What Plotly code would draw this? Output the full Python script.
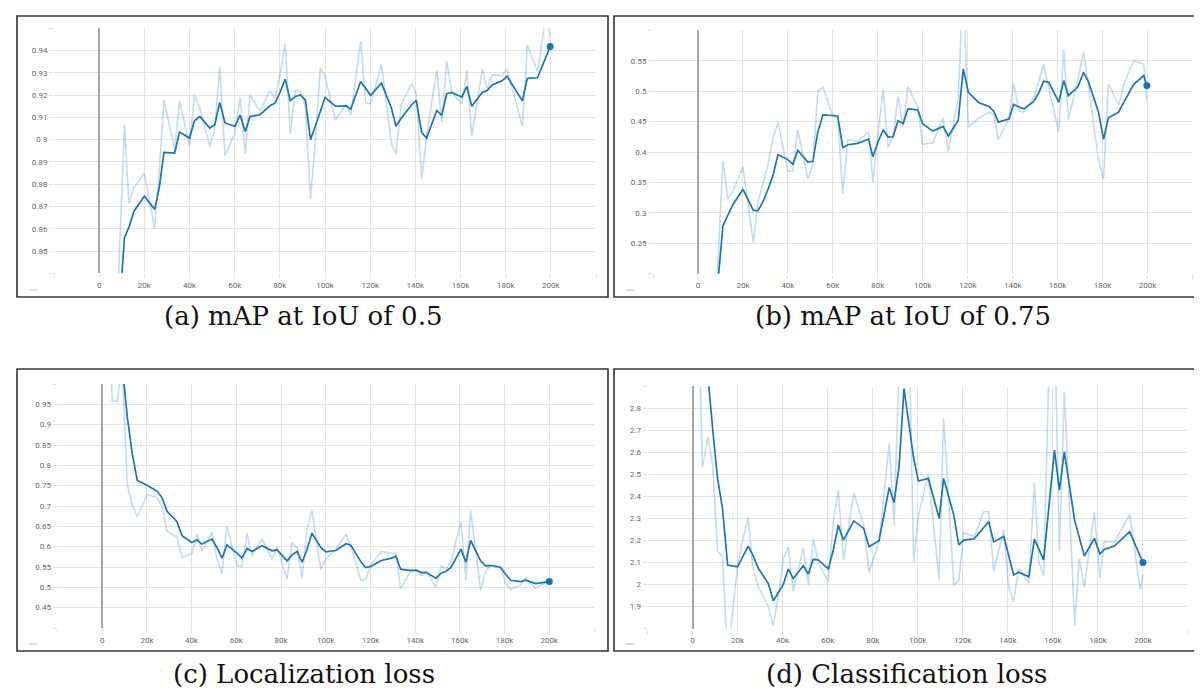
import plotly.graph_objects as go

W, H = 1202, 693

# ---------------- data (steps in thousands) ----------------
a_steps = [6.7, 11.2, 13.2, 15.4, 20.0, 24.6, 26.6, 28.7, 33.4, 35.6, 40.0, 42.2, 44.6, 49.0, 51.2,
           53.4, 55.7, 60.1, 62.4, 64.7, 66.8, 71.2, 75.6, 77.8, 80.0, 82.4, 84.6, 86.9, 89.1, 91.3,
           93.6, 95.8, 97.9, 100.0, 104.6, 109.4, 111.4, 115.8, 118.0, 120.2, 125.0, 129.4, 131.4,
           133.8, 138.4, 140.4, 142.8, 145.0, 149.5, 151.7, 153.9, 156.1, 160.6, 162.8, 165.0,
           169.6, 171.8, 174.0, 178.4, 180.6, 187.4, 189.6, 194.1, 197.9, 199.7]
a_raw = [0.79, 0.9067, 0.8712, 0.8784, 0.885, 0.86, 0.886, 0.9179, 0.8955, 0.9175, 0.897, 0.920,
         0.914, 0.897, 0.905, 0.9328, 0.8928, 0.903, 0.919, 0.8937, 0.920, 0.9127, 0.922, 0.9187,
         0.929, 0.943, 0.9027, 0.922, 0.9216, 0.915, 0.8734, 0.900, 0.9321, 0.9284, 0.9087, 0.916,
         0.911, 0.9443, 0.9167, 0.916, 0.9339, 0.8985, 0.8936, 0.916, 0.9251, 0.9206, 0.8821,
         0.9015, 0.9313, 0.908, 0.9351, 0.9212, 0.916, 0.9309, 0.9015, 0.9316, 0.9231, 0.9291,
         0.9288, 0.9316, 0.906, 0.9425, 0.9306, 0.956, 0.946]
a_smooth = [0.79, 0.856, 0.8607, 0.8679, 0.8746, 0.8687, 0.8784, 0.8943, 0.894, 0.9034, 0.9007,
            0.9085, 0.9104, 0.9052, 0.9067, 0.9167, 0.9075, 0.906, 0.911, 0.9037, 0.9104, 0.9112,
            0.9152, 0.9164, 0.921, 0.9272, 0.9175, 0.9194, 0.9201, 0.9179, 0.900, 0.906, 0.9125,
            0.919, 0.915, 0.9152, 0.9137, 0.9261, 0.923, 0.9199, 0.9254, 0.9142, 0.906, 0.9097,
            0.9157, 0.9176, 0.9033, 0.9007, 0.9131, 0.9109, 0.9206, 0.9212, 0.9191, 0.9239, 0.915,
            0.9212, 0.9221, 0.9246, 0.9264, 0.9284, 0.9175, 0.9275, 0.9278, 0.937, 0.9418]

b_steps = [8.0, 11.1, 13.3, 15.6, 20.0, 24.6, 26.7, 28.9, 31.1, 33.3, 35.6, 40.0, 42.2, 44.4, 48.9,
           51.1, 53.3, 55.6, 60.0, 62.2, 64.4, 66.7, 71.1, 75.9, 77.8, 80.1, 82.4, 84.6, 86.8, 89.0,
           91.3, 93.4, 97.8, 99.9, 104.5, 109.0, 111.4, 115.8, 118.0, 120.3, 125.0, 129.5, 131.6,
           133.6, 138.4, 140.4, 142.8, 145.0, 149.3, 151.6, 153.8, 156.1, 160.5, 162.7, 164.8,
           169.1, 171.5, 173.7, 178.2, 180.4, 182.6, 187.1, 189.3, 193.8, 198.3, 199.7]
b_raw = [0.15, 0.3853, 0.3225, 0.336, 0.3755, 0.2511, 0.318, 0.35, 0.378, 0.4218, 0.4491, 0.3689,
         0.3689, 0.4371, 0.3547, 0.379, 0.4998, 0.5064, 0.46, 0.455, 0.3307, 0.4202, 0.4175, 0.4327,
         0.3509, 0.43, 0.5025, 0.4065, 0.425, 0.4911, 0.4409, 0.508, 0.4736, 0.4125, 0.4147, 0.4562,
         0.4011, 0.49, 0.68, 0.4409, 0.4562, 0.4655, 0.4616, 0.4202, 0.4556, 0.5134, 0.468, 0.4655,
         0.49, 0.516, 0.5434, 0.505, 0.4327, 0.5691, 0.4529, 0.52, 0.5647, 0.51, 0.3864, 0.3547,
         0.5118, 0.4764, 0.5091, 0.55, 0.5445, 0.4845]
b_smooth = [0.15, 0.2784, 0.2964, 0.3138, 0.3389, 0.304, 0.3035, 0.318, 0.338, 0.3607, 0.3956,
            0.3875, 0.3798, 0.4027, 0.3836, 0.3847, 0.4327, 0.4611, 0.46, 0.4589, 0.4071, 0.412,
            0.4142, 0.4213, 0.3924, 0.4164, 0.4365, 0.4245, 0.4251, 0.4513, 0.4469, 0.4709, 0.4693,
            0.4464, 0.4344, 0.442, 0.4262, 0.4524, 0.5364, 0.4982, 0.4807, 0.4747, 0.4671, 0.4491,
            0.4545, 0.478, 0.474, 0.4709, 0.4829, 0.4971, 0.5162, 0.5145, 0.4818, 0.5173, 0.4927,
            0.5075, 0.5309, 0.5156, 0.4655, 0.4207, 0.4562, 0.4655, 0.4807, 0.5107, 0.5255, 0.5091]

c_steps = [2.2, 4.5, 6.7, 8.9, 11.2, 13.4, 15.7, 20.1, 24.6, 26.7, 29.0, 33.4, 35.7, 40.1, 42.4,
           44.6, 49.1, 51.3, 53.6, 55.8, 60.3, 62.5, 64.8, 67.0, 71.5, 76.0, 78.2, 82.7, 84.9, 87.2,
           89.4, 91.6, 93.8, 97.8, 100.0, 104.5, 109.1, 111.2, 115.8, 117.9, 120.1, 124.9, 129.4,
           131.4, 133.5, 138.3, 140.4, 142.8, 145.0, 149.3, 151.6, 153.8, 156.0, 160.5, 162.7,
           164.8, 169.3, 171.5, 173.8, 178.2, 180.4, 182.7, 187.2, 189.4, 193.9, 198.4, 200.0]
c_raw = [1.3, 0.958, 0.958, 1.05, 0.7526, 0.7033, 0.6729, 0.728, 0.7197, 0.6992, 0.6375, 0.6235,
         0.5742, 0.5832, 0.6309, 0.5898, 0.6359, 0.5717, 0.5331, 0.6498, 0.5528, 0.5528, 0.6326,
         0.5775, 0.6194, 0.5693, 0.5989, 0.5207, 0.6104, 0.5964, 0.5224, 0.6433, 0.6893, 0.543,
         0.570, 0.594, 0.631, 0.6005, 0.5166, 0.5199, 0.5553, 0.5882, 0.584, 0.5832, 0.496, 0.543,
         0.541, 0.529, 0.5405, 0.4993, 0.5528, 0.5446, 0.5635, 0.6622, 0.5183, 0.691, 0.4919,
         0.5388, 0.5553, 0.5512, 0.51, 0.4952, 0.5059, 0.524, 0.4977, 0.5125, 0.5141]
c_smooth = [1.3, 1.15, 1.08, 1.05, 0.92, 0.83, 0.7625, 0.751, 0.7362, 0.7214, 0.6868, 0.6622,
            0.6268, 0.6104, 0.617, 0.6063, 0.6186, 0.598, 0.5717, 0.6046, 0.584, 0.5717, 0.5956,
            0.5882, 0.6021, 0.5898, 0.5923, 0.5651, 0.5799, 0.5882, 0.5618, 0.5923, 0.6334, 0.598,
            0.5873, 0.5906, 0.6071, 0.6038, 0.562, 0.5487, 0.5512, 0.566, 0.5717, 0.5766, 0.5446,
            0.5413, 0.5421, 0.5363, 0.5363, 0.5224, 0.5347, 0.5396, 0.5487, 0.5939, 0.5618, 0.6153,
            0.5651, 0.5528, 0.5536, 0.5487, 0.533, 0.5174, 0.5141, 0.5174, 0.5092, 0.5125, 0.5141]

d_steps = [2.2, 4.4, 6.8, 9.0, 11.1, 13.3, 15.6, 20.0, 22.4, 24.7, 26.8, 29.2, 33.6, 35.9, 38.1,
           40.3, 42.5, 44.7, 49.2, 51.4, 53.6, 55.9, 60.3, 62.5, 64.7, 67.0, 71.6, 76.0, 78.4, 82.8,
           85.0, 87.3, 89.5, 91.7, 93.9, 96.0, 98.2, 100.3, 104.7, 109.5, 111.5, 116.0, 118.2,
           120.4, 125.1, 129.3, 131.5, 133.7, 138.2, 140.4, 142.6, 144.8, 149.3, 151.8, 153.8,
           155.9, 158.3, 160.7, 162.9, 165.1, 169.7, 171.7, 174.0, 178.4, 180.9, 182.8, 187.3,
           194.1, 198.8, 200.0]
d_raw = [3.4, 2.531, 2.668, 2.54, 2.152, 2.127, 1.665, 2.089, 2.21, 2.304, 2.074, 1.99, 1.9, 1.814,
         1.953, 2.119, 2.172, 1.971, 2.168, 1.998, 2.207, 2.097, 2.013, 2.286, 2.429, 2.112, 2.416,
         2.27, 2.056, 2.195, 2.407, 2.641, 2.27, 3.0, 3.3, 3.2, 2.104, 2.316, 2.50, 2.021, 2.758,
         1.998, 2.018, 2.237, 2.218, 2.331, 2.331, 2.063, 2.248, 1.99, 1.923, 2.074, 2.006, 2.463,
         2.10, 2.04, 3.0, 3.25, 2.152, 2.873, 1.817, 2.119, 1.99, 2.328, 2.031, 2.195, 2.192,
         2.319, 1.976, 2.044]
d_smooth = [3.4, 3.2, 2.95, 2.7, 2.482, 2.346, 2.089, 2.081, 2.128, 2.175, 2.134, 2.074, 2.006,
            1.927, 1.964, 2.001, 2.071, 2.028, 2.086, 2.048, 2.115, 2.112, 2.071, 2.157, 2.270,
            2.202, 2.289, 2.255, 2.172, 2.199, 2.316, 2.441, 2.373, 2.535, 2.89, 2.735, 2.573,
            2.470, 2.482, 2.301, 2.482, 2.316, 2.180, 2.202, 2.208, 2.259, 2.286, 2.195, 2.218,
            2.131, 2.044, 2.056, 2.036, 2.207, 2.16, 2.112, 2.36, 2.611, 2.429, 2.603, 2.289,
            2.215, 2.130, 2.210, 2.139, 2.160, 2.175, 2.240, 2.128, 2.100]

x_grid = [-20, 0, 20, 40, 60, 80, 100, 120, 140, 160, 180, 200, 220]
x_labels = ["", "0", "20k", "40k", "60k", "80k", "100k", "120k", "140k", "160k", "180k", "200k", ""]

a_yvals = [0.84, 0.85, 0.86, 0.87, 0.88, 0.89, 0.90, 0.91, 0.92, 0.93, 0.94, 0.95]
a_ylab = ["", "0.85", "0.86", "0.87", "0.88", "0.89", "0.9", "0.91", "0.92", "0.93", "0.94", ""]
b_yvals = [0.2, 0.25, 0.3, 0.35, 0.4, 0.45, 0.5, 0.55, 0.6]
b_ylab = ["", "0.25", "0.3", "0.35", "0.4", "0.45", "0.5", "0.55", ""]
c_yvals = [0.4, 0.45, 0.5, 0.55, 0.6, 0.65, 0.7, 0.75, 0.8, 0.85, 0.9, 0.95, 1.0]
c_ylab = ["", "0.45", "0.5", "0.55", "0.6", "0.65", "0.7", "0.75", "0.8", "0.85", "0.9", "0.95", ""]
d_yvals = [1.8, 1.9, 2.0, 2.1, 2.2, 2.3, 2.4, 2.5, 2.6, 2.7, 2.8, 2.9]
d_ylab = ["", "1.9", "2", "2.1", "2.2", "2.3", "2.4", "2.5", "2.6", "2.7", "2.8", ""]

captions = ["(a) mAP at IoU of 0.5", "(b) mAP at IoU of 0.75",
            "(c) Localization loss", "(d) Classification loss"]

# ---------------- layout helpers ----------------
def px(x):
    return x / W

def py(y):
    return 1 - y / H

SMOOTH = "#1a75b5"
RAW = "rgba(26,117,181,0.25)"

panels = [
    dict(steps=a_steps, raw=a_raw, sm=a_smooth, yv=a_yvals, yl=a_ylab, yr=[0.84, 0.95],
         dom=(46, 588, 20.3, 265.3), box=(9, 600, 8, 289), cap=(295, 308)),
    dict(steps=b_steps, raw=b_raw, sm=b_smooth, yv=b_yvals, yl=b_ylab, yr=[0.2, 0.6],
         dom=(645, 1184.5, 22.3, 265.7), box=(606, 1197, 8, 289), cap=(895, 308)),
    dict(steps=c_steps, raw=c_raw, sm=c_smooth, yv=c_yvals, yl=c_ylab, yr=[0.4, 1.0],
         dom=(49.5, 586, 376, 620), box=(9, 600, 361, 643), cap=(296, 666)),
    dict(steps=d_steps, raw=d_raw, sm=d_smooth, yv=d_yvals, yl=d_ylab, yr=[1.8, 2.9],
         dom=(639.5, 1180, 378.3, 620.7), box=(606, 1197, 361, 643), cap=(898, 666)),
]

fig = go.Figure()
layout = dict(width=W, height=H, margin=dict(l=0, r=0, t=0, b=0),
              paper_bgcolor="white", plot_bgcolor="white", showlegend=False,
              shapes=[], annotations=[])

tickfont = dict(family="Roboto, Arial, sans-serif", size=8, color="#666")

for i, p in enumerate(panels, start=1):
    xa = "x" if i == 1 else f"x{i}"
    ya = "y" if i == 1 else f"y{i}"
    xs = [s * 1000 for s in p["steps"]]
    fig.add_trace(go.Scatter(x=xs, y=p["raw"], mode="lines", xaxis=xa, yaxis=ya,
                             line=dict(color=RAW, width=1.6), hoverinfo="skip"))
    fig.add_trace(go.Scatter(x=xs, y=p["sm"], mode="lines", xaxis=xa, yaxis=ya,
                             line=dict(color=SMOOTH, width=1.7), hoverinfo="skip"))
    fig.add_trace(go.Scatter(x=[xs[-1]], y=[p["sm"][-1]], mode="markers", xaxis=xa, yaxis=ya,
                             marker=dict(color=SMOOTH, size=7), hoverinfo="skip",
                             cliponaxis=False))
    x0, x1, y0, y1 = p["dom"]
    xkey = "xaxis" if i == 1 else f"xaxis{i}"
    ykey = "yaxis" if i == 1 else f"yaxis{i}"
    layout[xkey] = dict(domain=[px(x0), px(x1)], anchor=ya, range=[-20000, 220000],
                        tickvals=[v * 1000 for v in x_grid], ticktext=x_labels,
                        showgrid=True, gridcolor="#e3e3e3", gridwidth=1,
                        zeroline=True, zerolinecolor="#a8a8a8", zerolinewidth=1.5,
                        showline=False, ticks="outside", ticklen=4, tickcolor="#e3e3e3",
                        tickfont=tickfont, fixedrange=True)
    layout[ykey] = dict(domain=[py(y1), py(y0)], anchor=xa, range=p["yr"],
                        tickvals=p["yv"], ticktext=p["yl"],
                        showgrid=True, gridcolor="#e3e3e3", gridwidth=1,
                        zeroline=False, showline=False, ticks="outside", ticklen=4,
                        tickcolor="#e3e3e3", tickfont=tickfont, fixedrange=True)
    bx0, bx1, by0, by1 = p["box"]
    layout["shapes"].append(dict(type="rect", xref="paper", yref="paper",
                                 x0=px(bx0), x1=px(bx1), y0=py(by1), y1=py(by0),
                                 line=dict(color="#333", width=1.6)))
    # small gray mark at lower-left corner of each panel
    layout["shapes"].append(dict(type="line", xref="paper", yref="paper",
                                 x0=px(bx0 + 12), x1=px(bx0 + 20), y0=py(by1 - 7), y1=py(by1 - 7),
                                 line=dict(color="#d0d0d0", width=1.5)))
    cx, cy = p["cap"]
    layout["annotations"].append(dict(text=captions[i - 1], xref="paper", yref="paper",
                                      x=px(cx), y=py(cy), xanchor="center", yanchor="middle",
                                      showarrow=False,
                                      font=dict(family="DejaVu Serif, serif", size=26,
                                                color="#111")))

fig.update_layout(**layout)
fig.write_html("out.html")
